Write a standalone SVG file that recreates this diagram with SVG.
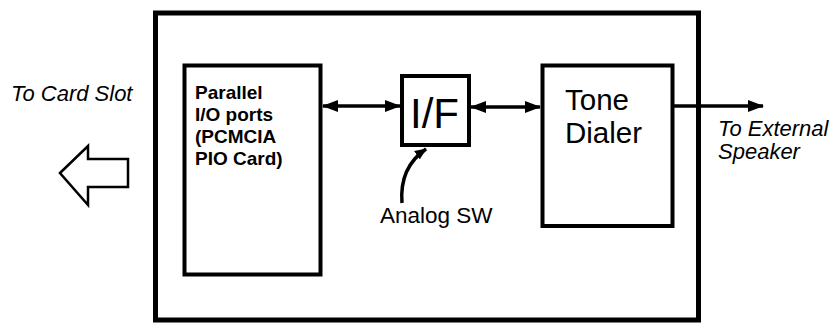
<svg xmlns="http://www.w3.org/2000/svg" width="839" height="324" viewBox="0 0 839 324">
<defs>
<style>
.box{fill:none;stroke:#000;stroke-width:4}
.outer{fill:none;stroke:#000;stroke-width:5}
.line{fill:none;stroke:#000;stroke-width:3.5}
.t{font-family:"Liberation Sans",Arial,sans-serif;fill:#000}
.it{font-style:italic;font-size:22px}
.bold{font-weight:bold;font-size:19px}
</style>
<marker id="ah" viewBox="0 0 16 12" refX="15" refY="6" markerWidth="16" markerHeight="12" markerUnits="userSpaceOnUse" orient="auto-start-reverse">
<path d="M0,0 L16,6 L0,12 Z" fill="#000"/>
</marker>
<marker id="ahs" viewBox="0 0 12 10" refX="11" refY="5" markerWidth="12" markerHeight="10" markerUnits="userSpaceOnUse" orient="auto">
<path d="M0,0 L12,5 L0,10 Z" fill="#000"/>
</marker>
</defs>
<rect id="outer-box" class="outer" x="155.5" y="13" width="543" height="307"/>
<g id="node-parallel">
<rect class="box" x="184.5" y="65.5" width="136" height="209"/>
<text class="t bold" x="195" y="99">Parallel</text>
<text class="t bold" x="195" y="121">I/O ports</text>
<text class="t bold" x="195" y="143">(PCMCIA</text>
<text class="t bold" x="195" y="165">PIO Card)</text>
</g>
<g id="node-if">
<rect class="box" x="402" y="76" width="67" height="69"/>
<text class="t" x="410" y="128" font-size="42">I/F</text>
</g>
<g id="node-tone">
<rect class="box" x="542.5" y="65.5" width="130" height="160.5"/>
<text class="t" x="565" y="110" font-size="29.5">Tone</text>
<text class="t" x="565" y="143" font-size="29.5">Dialer</text>
</g>
<g id="connectors">
<line class="line" x1="323" y1="106" x2="400" y2="106" marker-start="url(#ah)" marker-end="url(#ah)"/>
<line class="line" x1="471" y1="107" x2="540" y2="107" marker-start="url(#ah)" marker-end="url(#ah)"/>
<line class="line" x1="674" y1="106" x2="763" y2="106" marker-end="url(#ah)"/>
<path class="line" d="M402,203 C400,178 410,160 426,149" marker-end="url(#ahs)"/>
</g>
<g id="card-slot-arrow">
<path d="M60,173 L88,146 L88,159 L128,159 L128,187 L88,187 L88,205 Z" fill="#fff" stroke="#000" stroke-width="2.5" stroke-linejoin="miter"/>
</g>
<g id="labels">
<text class="t it" x="11" y="101">To Card Slot</text>
<text class="t it" x="718" y="136">To External</text>
<text class="t it" x="718" y="159">Speaker</text>
<text class="t" x="380" y="223" font-size="22.5">Analog SW</text>
</g>
</svg>
